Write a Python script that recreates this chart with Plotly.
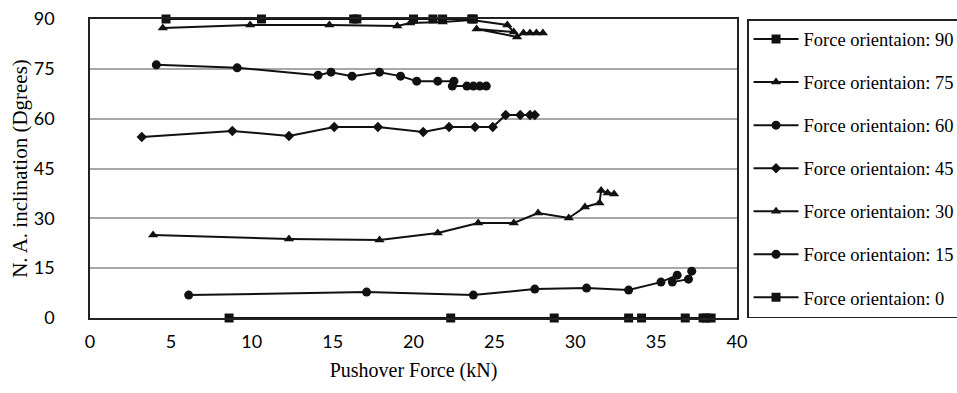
import plotly.graph_objects as go

# Pushover force (kN) and neutral-axis inclination (degrees) per force orientation
f90 = [4.7, 10.6, 16.3, 16.5, 20.0, 21.2, 21.8, 23.6, 23.7]
a90 = [90, 90, 90, 90, 90, 90, 90, 90, 90]

f75 = [4.5, 9.9, 14.8, 19.0, 19.8, 21.8, 23.6, 25.8, 26.2, 23.9, 26.4, 26.8, 27.2, 27.6, 28.0]
a75 = [87.3, 88.2, 88.2, 87.9, 88.8, 89.1, 89.7, 88.2, 86.1, 87.0, 84.6, 85.8, 85.8, 85.8, 85.8]

f60 = [4.1, 9.1, 14.1, 14.9, 16.2, 17.9, 19.2, 20.2, 21.5, 22.5, 22.4, 23.3, 23.7, 24.1, 24.5]
a60 = [76.2, 75.3, 73.1, 74.0, 72.8, 74.0, 72.8, 71.3, 71.3, 71.3, 69.8, 69.8, 69.8, 69.8, 69.8]

f45 = [3.2, 8.8, 12.3, 15.1, 17.8, 20.6, 22.2, 23.8, 24.9, 25.7, 26.6, 27.2, 27.5]
a45 = [54.5, 56.3, 54.8, 57.5, 57.5, 56.0, 57.5, 57.5, 57.5, 61.1, 61.1, 61.1, 61.1]

f30 = [3.9, 12.3, 17.9, 21.5, 24.0, 26.2, 27.7, 29.6, 30.6, 31.5, 31.6, 32.0, 32.4]
a30 = [25.0, 23.8, 23.5, 25.6, 28.6, 28.6, 31.6, 30.1, 33.4, 34.6, 38.4, 37.6, 37.3]

f15 = [6.1, 17.1, 23.7, 27.5, 30.7, 33.3, 35.3, 36.3, 36.0, 37.0, 37.2]
a15 = [6.9, 7.8, 6.9, 8.7, 9.0, 8.4, 10.8, 12.9, 10.8, 11.7, 14.1]

f0 = [8.6, 22.3, 28.7, 33.3, 34.1, 36.8, 37.9, 38.1, 38.4]
a0 = [0, 0, 0, 0, 0, 0, 0, 0, 0]

x_ticks = [0, 5, 10, 15, 20, 25, 30, 35, 40]
y_ticks = [0, 15, 30, 45, 60, 75, 90]

series = [
    ("Force orientaion: 90", f90, a90, "square", 9),
    ("Force orientaion: 75", f75, a75, "triangle-up", 9),
    ("Force orientaion: 60", f60, a60, "circle", 9),
    ("Force orientaion: 45", f45, a45, "diamond", 8),
    ("Force orientaion: 30", f30, a30, "triangle-up", 9),
    ("Force orientaion: 15", f15, a15, "circle", 9),
    ("Force orientaion: 0", f0, a0, "square", 9),
]

INK = "#111111"
fig = go.Figure()
for i, (name, xs, ys, sym, size) in enumerate(series):
    fig.add_trace(go.Scatter(
        x=xs, y=ys, name=name, mode="lines+markers",
        line=dict(color=INK, width=2),
        marker=dict(symbol=sym, size=size, color=INK, line=dict(width=0)),
        legendgroup="g%d" % i, cliponaxis=False,
    ))

fig.update_layout(
    width=957, height=393,
    margin=dict(l=90, r=220, t=19, b=75, autoexpand=False),
    paper_bgcolor="white", plot_bgcolor="white",
    showlegend=True,
    legend=dict(
        x=1.0155, xanchor="left", y=1.0, yanchor="top",
        font=dict(family="Liberation Serif", size=18.5, color="#000"),
        bordercolor="#222", borderwidth=1.5, bgcolor="white",
        traceorder="grouped", tracegroupgap=16,
        itemwidth=45,
    ),
    xaxis=dict(
        range=[0, 40], tickvals=x_ticks, ticks="", showgrid=False,
        showline=True, mirror=True, linecolor="#222", linewidth=1.5,
        zeroline=False, ticklabelstandoff=7, automargin=False,
        tickfont=dict(family="Lato", size=18, color="#000"),
        title=dict(text="Pushover Force (kN)", standoff=12,
                   font=dict(family="Liberation Serif", size=20, color="#000")),
    ),
    yaxis=dict(
        range=[0, 90], tickvals=y_ticks, ticks="",
        showgrid=True, gridcolor="#a8a8a8", gridwidth=1.5,
        showline=True, mirror=True, linecolor="#222", linewidth=1.5,
        zeroline=False, ticklabelstandoff=30, automargin=False,
        tickfont=dict(family="Lato", size=18, color="#000"),
        title=dict(text="N. A. inclination (Dgrees)", standoff=0,
                   font=dict(family="Liberation Serif", size=21, color="#000")),
    ),
)

fig.write_html("out.html")
